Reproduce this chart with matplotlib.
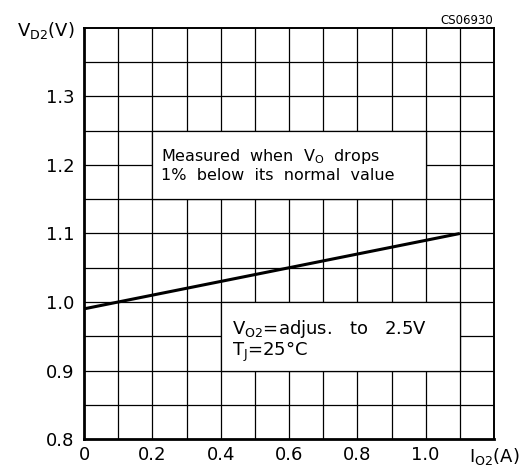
import matplotlib
matplotlib.use("Agg")
import matplotlib.pyplot as plt
from matplotlib.patches import Rectangle

# Data
current_a = [0.0, 0.1, 0.2, 0.4, 0.6, 0.8, 1.0, 1.1]
vd2_v = [0.99, 1.0, 1.01, 1.03, 1.05, 1.07, 1.09, 1.10]

x_ticks = [0.0, 0.2, 0.4, 0.6, 0.8, 1.0, 1.2]
x_tick_labels = ["0", "0.2", "0.4", "0.6", "0.8", "1.0", r"I$_{\mathregular{O2}}$(A)"]
y_ticks = [0.8, 0.9, 1.0, 1.1, 1.2, 1.3, 1.4]
y_tick_labels = ["0.8", "0.9", "1.0", "1.1", "1.2", "1.3", r"V$_{\mathregular{D2}}$(V)"]

note1 = "Measured  when  V$_{\\mathregular{O}}$  drops\n1%  below  its  normal  value"
note2 = "V$_{\\mathregular{O2}}$=adjus.   to   2.5V\nT$_{\\mathregular{J}}$=25°C"
code = "CS06930"

plt.rcParams['font.family'] = ['DejaVu Sans']
fig = plt.figure(figsize=(5.29, 4.72), dpi=100)
ax = fig.add_axes([84/529, 1-439/472, 410/529, 411/472])
ax.set_xlim(0, 1.2)
ax.set_ylim(0.8, 1.4)

# grid
for i in range(1, 12):
    ax.axvline(i*0.1, color='black', lw=0.9, zorder=1)
    ax.axhline(0.8 + i*0.05, color='black', lw=0.9, zorder=1)

# boxes
ax.add_patch(Rectangle((0.2, 1.15), 0.8, 0.1, facecolor='white', edgecolor='black', lw=0.9, zorder=2))
ax.add_patch(Rectangle((0.4, 0.9), 0.7, 0.1, facecolor='white', edgecolor='black', lw=0.9, zorder=2))

ax.text(0.226, 1.2, note1, fontsize=11.5, va='center', ha='left', zorder=3, linespacing=1.2)
ax.text(0.433, 0.943, note2, fontsize=13, va='center', ha='left', zorder=3, linespacing=1.0)

ax.plot(current_a, vd2_v, color='black', lw=2.2, zorder=4, solid_capstyle='butt')

ax.set_xticks(x_ticks)
ax.set_xticklabels(x_tick_labels, fontsize=13)
ax.set_yticks(y_ticks)
ax.set_yticklabels(y_tick_labels, fontsize=13)
ax.tick_params(length=0, pad=5)
ax.tick_params(axis='y', pad=7)
for s in ['top', 'right']:
    ax.spines[s].set_linewidth(1.4)
for s in ['bottom', 'left']:
    ax.spines[s].set_linewidth(2.0)
ax.spines['top'].set_zorder(5)

fig.text(493/529, 1-24/472, code, fontsize=8.5, ha='right', va='baseline')

fig.savefig("out.png", dpi=100)
